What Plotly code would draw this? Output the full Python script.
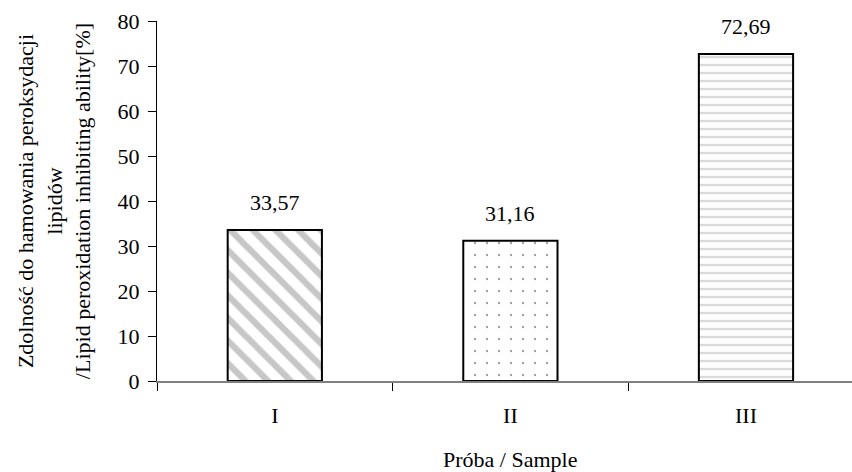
import plotly.graph_objects as go

categories = ["I", "II", "III"]
values = [33.57, 31.16, 72.69]
y_ticks = [0, 10, 20, 30, 40, 50, 60, 70, 80]

FONT = "Liberation Serif"

fig = go.Figure()
fig.add_trace(go.Bar(
    x=categories,
    y=values,
    width=0.4,
    marker=dict(
        color="white",
        line=dict(color="black", width=2),
        pattern=dict(
            shape=["\\", ".", "-"],
            fgcolor=["#8f8f8f", "#444444", "#b5b5b5"],
            bgcolor="white",
            size=[16, 12, 8],
            solidity=[0.4, 0.03, 0.3],
            fillmode="overlay",
        ),
    ),
    hoverinfo="skip",
))

for c, v in zip(categories, values):
    fig.add_annotation(
        x=c, y=v, xref="x", yref="y",
        text=f"{v:.2f}".replace(".", ","),
        showarrow=False, yanchor="bottom", yshift=13,
        font=dict(family=FONT, size=22, color="black"),
    )

fig.add_annotation(
    xref="paper", yref="paper", x=-0.148, y=0.5,
    xanchor="center", yanchor="middle", textangle=-90,
    text="Zdolność do hamowania peroksydacji<br>lipidów<br>/Lipid peroxidation inhibiting ability[%]",
    showarrow=False,
    font=dict(family=FONT, size=22, color="black"),
)

fig.add_annotation(
    xref="x", yref="paper", x="II", y=-0.219,
    text="Próba / Sample", showarrow=False,
    yanchor="middle", yshift=0,
    font=dict(family=FONT, size=22, color="black"),
)

fig.update_layout(
    width=852, height=472,
    margin=dict(l=157, r=0, t=21, b=91),
    paper_bgcolor="white", plot_bgcolor="white",
    showlegend=False,
    font=dict(family=FONT, size=22, color="black"),
    xaxis=dict(
        type="category",
        range=[-0.5, 2.45],
        showline=True, linecolor="#808080", linewidth=2,
        ticks="outside", tickson="boundaries", ticklen=8, tickcolor="black", tickwidth=1,
        ticklabelstandoff=14,
        showgrid=False, zeroline=False,
    ),
    yaxis=dict(
        range=[0, 80], tickvals=y_ticks,
        showline=True, linecolor="black", linewidth=1,
        ticks="outside", ticklen=8, tickcolor="black",
        ticklabelstandoff=4,
        showgrid=False, zeroline=False,
    ),
)

fig.write_html("out.html")
